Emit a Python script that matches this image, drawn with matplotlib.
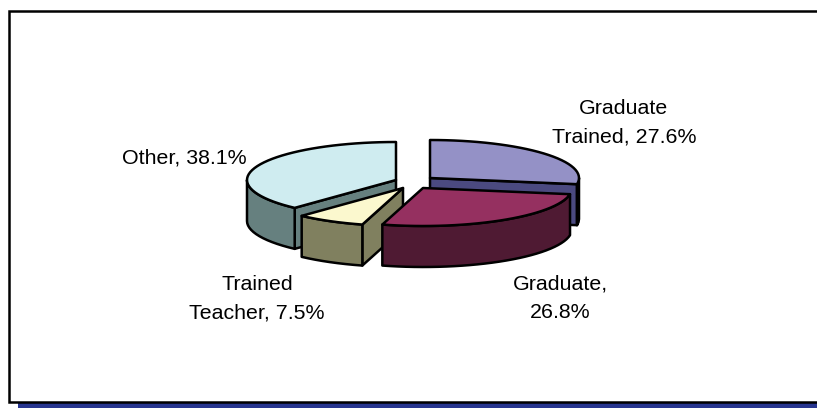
import numpy as np
import matplotlib
matplotlib.use("Agg")
import matplotlib.pyplot as plt
from matplotlib.patches import Polygon, Rectangle

plt.rcParams['font.family'] = ['Liberation Sans', 'DejaVu Sans']

# data
labels = ["Graduate\nTrained, 27.6%", "Graduate,\n26.8%", "Trained\nTeacher, 7.5%", "Other, 38.1%"]
shares = [27.6, 26.8, 7.5, 38.1]
top_colors = ["#9491C6", "#953060", "#FBF8CE", "#CFECF0"]
side_colors = ["#4B4A80", "#4F1A33", "#80805F", "#66807F"]

# layout in pixels
centers = [(430, 178), (423, 188), (403, 188), (396, 180)]
label_pos = [(624, 123), (560, 298), (257, 299), (184.5, 158)]
rx, ry, depth = 149, 38, 41


def rim(cx, cy, a0, a1):
    # ellipse arc, angles clockwise from 12 o'clock
    t = np.radians(np.linspace(a0, a1, max(int(abs(a1 - a0) / 3), 2)))
    return np.column_stack([cx + rx * np.sin(t), cy - ry * np.cos(t)])


def extrude(pts):
    return np.vstack([pts, pts[::-1] + [0, depth]])


def draw_slice(ax, center, a0, a1, top, side):
    cx, cy = center
    style = dict(edgecolor="black", linewidth=1.8, joinstyle="round")
    # cut faces that look towards the viewer
    for a, visible in ((a0, np.sin(np.radians(a0)) < 0), (a1, np.sin(np.radians(a1)) > 0)):
        if visible:
            p = rim(cx, cy, a, a)[:1]
            ax.add_patch(Polygon(extrude(np.vstack([[cx, cy], p])), facecolor=side, **style))
    # outer wall, only the front half of the rim
    f0, f1 = max(a0, 90), min(a1, 270)
    if f1 > f0:
        ax.add_patch(Polygon(extrude(rim(cx, cy, f0, f1)), facecolor=side, **style))
    ax.add_patch(Polygon(np.vstack([[cx, cy], rim(cx, cy, a0, a1)]), facecolor=top, **style))


fig = plt.figure(figsize=(8.17, 4.08), dpi=100)
ax = fig.add_axes([0, 0, 1, 1])
ax.set_xlim(0, 817)
ax.set_ylim(408, 0)
ax.axis("off")

# blue shadow strip and chart frame, frame runs off the right side
ax.add_patch(Rectangle((18, 403), 810, 6, facecolor="#27358F", edgecolor="none"))
ax.add_patch(Rectangle((9, 11), 820, 391, facecolor="white", edgecolor="black", linewidth=1.8))

edges = np.concatenate([[0], np.cumsum(shares)]) / sum(shares) * 360
order = [0, 3, 2, 1]  # back to front
for i in order:
    draw_slice(ax, centers[i], edges[i], edges[i + 1], top_colors[i], side_colors[i])

for text, (x, y) in zip(labels, label_pos):
    ax.text(x, y, text, ha="center", va="center", fontsize=15.4, color="black", linespacing=1.63)

fig.savefig("out.png", dpi=100)
